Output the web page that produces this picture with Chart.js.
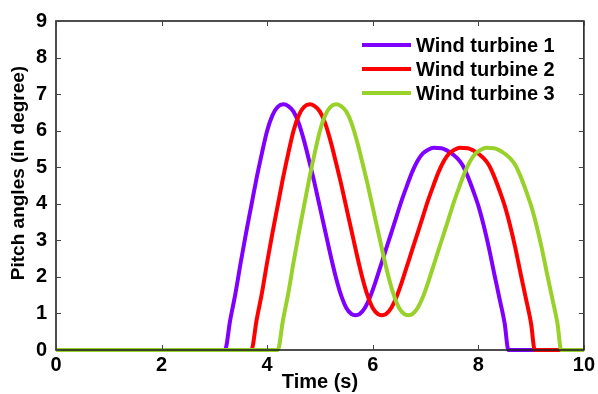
<!DOCTYPE html>
<html>
<head>
<meta charset="utf-8">
<script src="https://cdn.jsdelivr.net/npm/chart.js@4.4.1/dist/chart.umd.min.js"></script>
<style>
  html, body { margin: 0; padding: 0; background: #fff; }
  #wrap { width: 598px; height: 394px; }
</style>
</head>
<body>
<div id="wrap"><canvas id="pitch"></canvas></div>
<script>
const seriesNames = ['Wind turbine 1', 'Wind turbine 2', 'Wind turbine 3'];
const xTicks = [0, 2, 4, 6, 8, 10];
const yTicks = [0, 1, 2, 3, 4, 5, 6, 7, 8, 9];
const yTitle = 'Pitch angles (in degree)';

const time1 = [0, 3.2, 3.3, 3.4, 3.5, 3.6, 3.7, 3.8, 3.9, 4.0, 4.1, 4.2, 4.31, 4.4, 4.5, 4.6, 4.7, 4.8, 4.9, 5.0,
    5.1, 5.2, 5.3, 5.4, 5.5, 5.6, 5.67, 5.75, 5.85, 5.95, 6.05, 6.15, 6.25, 6.35, 6.45, 6.55, 6.65, 6.75, 6.85, 6.95,
    7.05, 7.15, 7.3, 7.45, 7.6, 7.7, 7.8, 7.9, 8.0, 8.1, 8.2, 8.3, 8.4, 8.5, 8.57, 10];
const pitch1 = [0, 0, 0.82, 1.55, 2.4, 3.2, 3.95, 4.7, 5.38, 6.0, 6.42, 6.65, 6.72, 6.67, 6.52, 6.2, 5.72, 5.15, 4.55, 3.9,
    3.25, 2.6, 2.0, 1.5, 1.15, 0.98, 0.95, 0.98, 1.15, 1.45, 1.85, 2.3, 2.75, 3.2, 3.65, 4.1, 4.5, 4.88, 5.18, 5.38,
    5.48, 5.53, 5.52, 5.42, 5.25, 5.06, 4.75, 4.37, 3.95, 3.42, 2.8, 2.1, 1.42, 0.72, 0, 0];

const time2 = [0, 3.7, 3.8, 3.9, 4.0, 4.1, 4.2, 4.3, 4.4, 4.5, 4.6, 4.7, 4.81, 4.9, 5.0, 5.1, 5.2, 5.3, 5.4, 5.5,
    5.6, 5.7, 5.8, 5.9, 6.0, 6.1, 6.17, 6.25, 6.35, 6.45, 6.55, 6.65, 6.75, 6.85, 6.95, 7.05, 7.15, 7.25, 7.35, 7.45,
    7.55, 7.65, 7.8, 7.95, 8.1, 8.2, 8.3, 8.4, 8.5, 8.6, 8.7, 8.8, 8.9, 9.0, 9.07, 10];
const pitch2 = [0, 0, 0.82, 1.55, 2.4, 3.2, 3.95, 4.7, 5.38, 6.0, 6.42, 6.65, 6.72, 6.67, 6.52, 6.2, 5.72, 5.15, 4.55, 3.9,
    3.25, 2.6, 2.0, 1.5, 1.15, 0.98, 0.95, 0.98, 1.15, 1.45, 1.85, 2.3, 2.75, 3.2, 3.65, 4.1, 4.5, 4.88, 5.18, 5.38,
    5.48, 5.53, 5.52, 5.42, 5.25, 5.06, 4.75, 4.37, 3.95, 3.42, 2.8, 2.1, 1.42, 0.72, 0, 0];

const time3 = [0, 4.2, 4.3, 4.4, 4.5, 4.6, 4.7, 4.8, 4.9, 5.0, 5.1, 5.2, 5.31, 5.4, 5.5, 5.6, 5.7, 5.8, 5.9, 6.0,
    6.1, 6.2, 6.3, 6.4, 6.5, 6.6, 6.67, 6.75, 6.85, 6.95, 7.05, 7.15, 7.25, 7.35, 7.45, 7.55, 7.65, 7.75, 7.85, 7.95,
    8.05, 8.15, 8.3, 8.45, 8.6, 8.7, 8.8, 8.9, 9.0, 9.1, 9.2, 9.3, 9.4, 9.5, 9.57, 10];
const pitch3 = [0, 0, 0.82, 1.55, 2.4, 3.2, 3.95, 4.7, 5.38, 6.0, 6.42, 6.65, 6.72, 6.67, 6.52, 6.2, 5.72, 5.15, 4.55, 3.9,
    3.25, 2.6, 2.0, 1.5, 1.15, 0.98, 0.95, 0.98, 1.15, 1.45, 1.85, 2.3, 2.75, 3.2, 3.65, 4.1, 4.5, 4.88, 5.18, 5.38,
    5.48, 5.53, 5.52, 5.42, 5.25, 5.06, 4.75, 4.37, 3.95, 3.42, 2.8, 2.1, 1.42, 0.72, 0, 0];

const colors = ['#7f00ff', '#ff0000', '#99d12b'];
const fontFamily = '"Liberation Sans", Arial, sans-serif';

function pts(xs, ys) {
    return xs.map((x, i) => ({ x: x, y: ys[i] }));
}

// matlab style box with inward ticks, y title and legend
const boxPlugin = {
    id: 'box',
    afterDatasetsDraw(chart) {
        const { ctx, chartArea: a, scales } = chart;
        ctx.save();
        ctx.strokeStyle = '#222';
        ctx.lineWidth = 1.6;
        ctx.strokeRect(a.left, a.top, a.right - a.left, a.bottom - a.top);
        ctx.lineWidth = 1;
        ctx.strokeStyle = '#444';
        xTicks.forEach(v => {
            const px = Math.round(scales.x.getPixelForValue(v)) + 0.5;
            ctx.beginPath();
            ctx.moveTo(px, a.bottom); ctx.lineTo(px, a.bottom - 5);
            ctx.moveTo(px, a.top); ctx.lineTo(px, a.top + 5);
            ctx.stroke();
        });
        yTicks.forEach(v => {
            const py = Math.round(scales.y.getPixelForValue(v)) + 0.5;
            ctx.beginPath();
            ctx.moveTo(a.left, py); ctx.lineTo(a.left + 5, py);
            ctx.moveTo(a.right, py); ctx.lineTo(a.right - 5, py);
            ctx.stroke();
        });

        // y axis title
        ctx.fillStyle = '#000';
        ctx.font = 'bold 19px ' + fontFamily;
        ctx.textAlign = 'center';
        ctx.textBaseline = 'middle';
        ctx.translate(19, 173);
        ctx.rotate(-Math.PI / 2);
        ctx.fillText(yTitle, 0, 0);
        ctx.setTransform(1, 0, 0, 1, 0, 0);

        // legend
        ctx.font = 'bold 20px ' + fontFamily;
        ctx.textAlign = 'left';
        seriesNames.forEach((name, i) => {
            const y = 45 + i * 24;
            ctx.strokeStyle = colors[i];
            ctx.lineWidth = 4;
            ctx.beginPath();
            ctx.moveTo(362, y); ctx.lineTo(411, y);
            ctx.stroke();
            ctx.fillText(name, 416, y + 1);
        });
        ctx.restore();
    }
};

const datasets = [
    { label: seriesNames[0], data: pts(time1, pitch1), borderColor: colors[0], order: 2 },
    { label: seriesNames[1], data: pts(time2, pitch2), borderColor: colors[1], order: 1 },
    { label: seriesNames[2], data: pts(time3, pitch3), borderColor: colors[2], order: 0 }
].map(d => Object.assign(d, {
    borderWidth: 4,
    pointRadius: 0,
    fill: false,
    cubicInterpolationMode: 'monotone',
    clip: 6
}));

const tickFont = { family: fontFamily, size: 20, weight: 'bold' };

new Chart(document.getElementById('pitch'), {
    type: 'line',
    data: { datasets: datasets },
    options: {
        responsive: true,
        maintainAspectRatio: false,
        animation: false,
        layout: { padding: { left: 0, right: 14, top: 19, bottom: 0 } },
        plugins: {
            legend: { display: false },
            tooltip: { enabled: false }
        },
        scales: {
            x: {
                type: 'linear',
                min: 0,
                max: 10,
                afterFit(s) { s.height = 44; },
                afterBuildTicks(s) { s.ticks = xTicks.map(v => ({ value: v })); },
                grid: { display: false, drawTicks: false },
                border: { display: false },
                ticks: { color: '#000', font: tickFont, padding: 3, maxRotation: 0 },
                title: {
                    display: true,
                    text: 'Time (s)',
                    color: '#000',
                    font: { family: fontFamily, size: 20, weight: 'bold' },
                    padding: { top: 0, bottom: 0 }
                }
            },
            y: {
                min: 0,
                max: 9,
                afterFit(s) { s.width = 56; },
                afterBuildTicks(s) { s.ticks = yTicks.map(v => ({ value: v })); },
                grid: { display: false, drawTicks: false },
                border: { display: false },
                ticks: { color: '#000', font: tickFont, padding: 9 }
            }
        }
    },
    plugins: [boxPlugin]
});
</script>
</body>
</html>
